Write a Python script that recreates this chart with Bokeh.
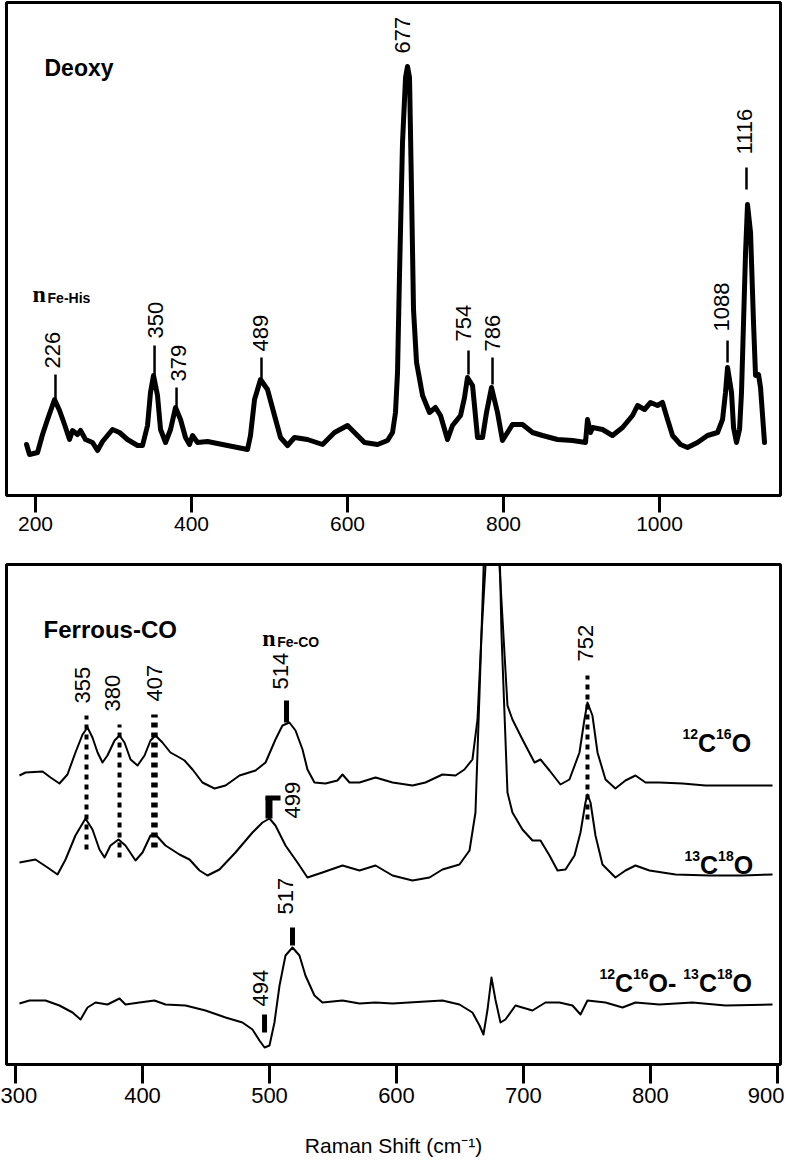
import numpy as np
from bokeh.plotting import figure
from bokeh.layouts import column
from bokeh.models import Range1d, FixedTicker
from bokeh.core.properties import value
from bokeh.embed import file_html
from bokeh.resources import INLINE

# ---------------- Deoxy spectrum (top panel) ----------------
deoxy_shift = [188.5, 192.3, 202.6, 209.0, 215.4, 224.4, 230.8, 237.2, 243.6, 247.4, 253.8, 257.7,
               264.1, 273.1, 279.5, 285.9, 292.3, 298.7, 307.7, 317.9, 330.8, 337.2, 343.6, 347.4,
               351.3, 356.4, 360.3, 366.7, 373.1, 379.5, 385.9, 392.3, 397.4, 401.3, 407.7, 420.5,
               439.7, 459.0, 471.8, 475.6, 480.8, 488.5, 497.4, 506.4, 514.1, 523.1, 532.0, 548.7,
               568.0, 583.3, 600.0, 612.8, 621.8, 638.5, 651.3,
               657.7, 661.5, 664.1, 666.7, 670.5, 674.4, 676.9, 679.5, 682.1, 684.6, 688.5, 696.2,
               705.1, 712.8, 719.2, 728.2, 734.6, 744.9, 750.0, 753.8, 760.3, 766.7, 773.1, 778.2,
               784.6, 792.3, 798.7, 805.1, 811.5, 824.4, 837.2, 850.0, 869.2, 888.5, 905.1, 907.7,
               911.5, 914.1, 926.9, 939.7, 952.6, 965.4, 971.8, 980.8, 988.5, 997.4, 1003.8, 1010.3,
               1016.7, 1026.9, 1035.9, 1048.7, 1061.5, 1074.4, 1080.8, 1084.6, 1087.2, 1092.3, 1094.9,
               1098.7, 1102.6, 1105.1, 1107.7, 1110.3, 1112.8, 1116.7, 1120.5, 1123.1, 1126.9, 1129.5,
               1134.6]
deoxy_int = [51, 41, 43, 61, 76, 96, 85, 71, 56, 65, 61, 65, 56, 53, 45, 54, 60, 66, 63, 56, 50, 50,
             70, 103, 120, 100, 66, 53, 66, 88, 76, 58, 51, 60, 53, 54, 51, 48, 46, 60, 96, 116, 106,
             80, 58, 50, 58, 56, 51, 63, 70, 60, 53, 51, 55,
             63, 83, 123, 223, 353, 418, 429, 418, 303, 186, 133, 100, 83, 88, 80, 56, 70, 80, 98,
             118, 110, 58, 58, 83, 108, 83, 55, 63, 71, 71, 63, 60, 56, 55, 53, 76, 63, 68, 66, 60,
             68, 80, 90, 86, 93, 90, 93, 76, 60, 51, 48, 53, 60, 63, 76, 103, 128, 103, 68, 53, 66,
             103, 173, 243, 291, 263, 173, 120, 121, 108, 53]

deoxy_ticks = [200, 400, 600, 800, 1000]
deoxy_labels = ["226", "350", "379", "489", "677", "754", "786", "1088", "1116"]
deoxy_label_x = [221.8, 353.8, 383.3, 488.5, 670.5, 748.7, 785.9, 1079.5, 1109.0]
deoxy_label_y = [127, 157, 114, 144, 442, 154, 144, 164, 341]
deoxy_line_x = [225.6, 352.6, 380.8, 489.7, 755.1, 785.9, 1087.2, 1111.5]
deoxy_line_top = [121, 150, 108, 138, 145, 138, 155, 328]
deoxy_line_bot = [96, 120, 88, 116, 121, 111, 133, 306]

# ---------------- Ferrous-CO spectra (bottom panel) ----------------
c12_shift = [303.1, 307.9, 321.3, 327.6, 334.6, 340.9, 347.2, 352.8, 356.7, 360.6, 364.6, 368.5,
             372.4, 378.0, 381.9, 385.8, 390.6, 396.1, 401.6, 406.3, 410.2, 415.7, 422.0, 429.1,
             433.1, 439.4, 447.2, 456.7, 465.4, 476.4, 489.0, 496.9, 504.7, 510.2, 515.7, 520.5,
             526.0, 529.9, 535.4, 544.1, 553.5, 557.5, 563.0, 570.9, 583.5, 596.9, 612.6, 622.8,
             636.2, 646.5, 653.5, 659.8, 663.8, 666.9, 670.1, 675.6, 681.1, 685.0, 687.4, 691.3,
             699.2, 708.7, 713.4, 720.5, 729.1, 736.2, 744.1, 748.0, 750.4, 754.3, 758.3, 764.6,
             772.4, 780.3, 788.2, 796.1, 807.1, 825.2, 843.3, 896.1]
c12_int = [289, 292, 293, 287, 281, 290, 312, 330, 337, 327, 312, 302, 309, 324, 329, 322, 305, 299,
           309, 324, 329, 322, 312, 307, 304, 295, 282, 276, 279, 289, 294, 302, 325, 339, 342, 334,
           315, 295, 282, 281, 284, 290, 282, 282, 287, 282, 279, 282, 290, 289, 295, 305, 345, 429,
           499, 640, 499, 412, 359, 345, 325, 302, 305, 294, 280, 285, 312, 345, 362, 349, 312, 285,
           276, 284, 289, 282, 282, 281, 279, 279]

c13_shift = [303.1, 315.7, 325.2, 333.1, 339.4, 347.2, 355.1, 360.6, 366.1, 370.1, 374.8, 381.1,
             386.6, 394.5, 400.0, 406.3, 410.2, 418.1, 429.1, 437.0, 444.9, 451.2, 460.6, 473.2,
             486.6, 494.5, 500.0, 504.7, 512.6, 522.0, 529.9, 541.7, 557.5, 570.9, 583.5, 596.9,
             612.6, 626.0, 636.2, 649.6, 657.5, 662.2, 665.4, 668.5, 673.2, 678.0, 682.7, 687.4,
             691.3, 699.2, 707.1, 713.4, 720.5, 726.8, 733.1, 740.2, 744.9, 748.8, 750.4, 752.8,
             756.7, 762.2, 772.4, 780.3, 788.2, 799.2, 819.7, 846.5, 872.4, 896.1]
c13_int = [202, 205, 197, 190, 205, 229, 246, 235, 215, 207, 219, 225, 219, 204, 212, 229, 230, 219,
           210, 205, 194, 189, 195, 212, 232, 242, 246, 239, 219, 202, 187, 192, 199, 194, 199, 189,
           184, 187, 195, 200, 214, 252, 372, 492, 700, 700, 430, 272, 252, 235, 224, 224, 209, 194,
           195, 209, 232, 262, 270, 262, 229, 200, 187, 194, 199, 194, 190, 189, 189, 190]

diff_shift = [303.1, 311.0, 323.6, 334.6, 344.9, 351.2, 356.7, 363.0, 372.4, 381.9, 386.6, 397.6,
              409.4, 418.1, 433.9, 449.6, 465.4, 478.7, 486.6, 492.1, 496.1, 500.0, 503.9, 507.9,
              512.6, 518.1, 523.6, 528.3, 535.4, 541.7, 557.5, 570.9, 583.5, 596.9, 622.8, 636.2,
              649.6, 659.8, 665.4, 668.5, 671.7, 674.8, 677.9, 681.9, 685.8, 693.7, 707.1, 717.3,
              728.3, 738.6, 744.9, 750.4, 764.6, 778.0, 788.2, 807.1, 833.1, 859.1, 896.1]
diff_int = [61, 64, 64, 59, 52, 45, 57, 62, 60, 66, 60, 62, 64, 60, 59, 54, 47, 42, 35, 24, 17, 19,
            42, 79, 109, 117, 109, 89, 69, 62, 64, 61, 62, 61, 63, 64, 60, 52, 39, 30, 55, 87, 65,
            42, 45, 59, 54, 62, 62, 59, 50, 64, 62, 57, 62, 60, 62, 59, 60]

co_ticks = [300, 400, 500, 600, 700, 800, 900]
co_labels = ["355", "380", "407", "514", "752", "499", "517", "494"]
co_label_x = [352.8, 376.4, 409.4, 508.7, 748.8, 518.1, 512.6, 492.9]
co_label_y = [361, 353, 363, 375, 403, 246, 150, 58]
dot_x = [355.9, 381.9, 409.4, 750.4]
dot_top = [349, 340, 350, 389]
dot_bot = [215, 207, 217, 245]
dot_w = [4, 4, 6.5, 4]
bar_x = [513.4, 518.1, 496.1]
bar_top = [364, 137, 50]
bar_bot = [342, 119, 32]

BOLD_W = {'0': .556, '1': .556, '2': .556, '3': .556, '4': .556, '5': .556, '6': .556,
          '7': .556, '8': .556, '9': .556, 'C': .722, 'O': .778, '-': .333, ' ': .278}
FONT = value("Liberation Sans")


def style_fig(p, ticks, tick_len, lab_size):
    p.outline_line_color = "black"
    p.outline_line_width = 3
    p.outline_line_alpha = 1
    p.xgrid.visible = False
    p.ygrid.visible = False
    p.yaxis.visible = False
    ax = p.xaxis[0]
    ax.ticker = FixedTicker(ticks=ticks)
    ax.axis_line_color = None
    ax.major_tick_line_width = 3
    ax.major_tick_line_color = "black"
    ax.major_tick_out = tick_len
    ax.major_tick_in = 0
    ax.minor_tick_out = 0
    ax.minor_tick_in = 0
    ax.major_label_text_font = "Liberation Sans"
    ax.major_label_text_font_size = lab_size
    ax.major_label_text_color = "black"
    ax.major_label_standoff = 4
    p.background_fill_color = "white"
    p.border_fill_color = "white"


def add_iso(p, x, y, parts, big=25, small=14):
    off = 0.0
    for t, sup in parts:
        size = small if sup else big
        p.text(x=[x], y=[y], text=[t], x_offset=off, y_offset=(-9 if sup else 0),
               text_font=FONT, text_font_style="bold", text_font_size=f"{size}px",
               text_align="left", text_baseline="alphabetic", text_color="black")
        off += sum(BOLD_W[c] for c in t) * size


def add_nu(p, x, y, sub):
    p.text(x=[x], y=[y], text=["n"], text_font=value("Liberation Serif"), text_font_style="bold",
           text_font_size="24px", text_align="left", text_baseline="alphabetic", text_color="black")
    p.text(x=[x], y=[y], text=[sub], x_offset=15, y_offset=4, text_font=FONT,
           text_font_style="bold", text_font_size="14px", text_align="left",
           text_baseline="alphabetic", text_color="black")


# ---------------- top figure ----------------
p1 = figure(frame_width=774, frame_height=493, x_range=Range1d(162.8, 1155.1),
            y_range=Range1d(0, 493), output_backend="svg", toolbar_location=None,
            min_border_left=6, min_border_right=4, min_border_top=2, min_border_bottom=57)
style_fig(p1, deoxy_ticks, 17, "21px")
p1.line(deoxy_shift, deoxy_int, line_color="black", line_width=5, line_join="round", line_cap="round")
p1.segment(x0=deoxy_line_x, y0=deoxy_line_bot, x1=deoxy_line_x, y1=deoxy_line_top,
           line_color="black", line_width=2.5)
p1.text(x=deoxy_label_x, y=deoxy_label_y, text=deoxy_labels, angle=np.pi / 2,
        text_font=FONT, text_font_size="22px", text_align="left", text_baseline="middle",
        text_color="black")
p1.text(x=[211.5], y=[428], text=["Deoxy"], text_font=FONT, text_font_style="bold",
        text_font_size="23px", text_align="left", text_baseline="alphabetic", text_color="black")
add_nu(p1, 196.2, 202, "Fe-His")

# ---------------- bottom figure ----------------
p2 = figure(frame_width=774, frame_height=500, x_range=Range1d(292.9, 902.4),
            y_range=Range1d(0, 500), output_backend="svg", toolbar_location=None,
            min_border_left=6, min_border_right=4, min_border_top=12, min_border_bottom=98)
style_fig(p2, co_ticks, 19, "22px")
ax2 = p2.xaxis[0]
ax2.axis_label = "Raman Shift (cm\u207b\u00b9)"
ax2.axis_label_text_font = "Liberation Sans"
ax2.axis_label_text_font_style = "normal"
ax2.axis_label_text_font_size = "21px"
ax2.axis_label_text_color = "black"
ax2.axis_label_standoff = 28

for xs, ys in ((c12_shift, c12_int), (c13_shift, c13_int), (diff_shift, diff_int)):
    p2.line(xs, ys, line_color="black", line_width=2, line_join="round")

for xv, t, b, w in zip(dot_x, dot_top, dot_bot, dot_w):
    p2.segment(x0=[xv], y0=[b], x1=[xv], y1=[t], line_color="black", line_width=w,
               line_dash="5 5")
p2.segment(x0=bar_x, y0=bar_bot, x1=bar_x, y1=bar_top, line_color="black", line_width=5)
# bracket marker for 499
p2.segment(x0=[499.6], y0=[246], x1=[499.6], y1=[268], line_color="black", line_width=7)
p2.segment(x0=[496.9], y0=[266.5], x1=[508.7], y1=[266.5], line_color="black", line_width=5)

p2.text(x=co_label_x, y=co_label_y, text=co_labels, angle=np.pi / 2,
        text_font=FONT, text_font_size="22px", text_align="left", text_baseline="middle",
        text_color="black")
p2.text(x=[322.1], y=[435], text=["Ferrous-CO"], text_font=FONT, text_font_style="bold",
        text_font_size="24px", text_align="left", text_baseline="alphabetic", text_color="black")
add_nu(p2, 494.2, 427, "Fe-CO")

add_iso(p2, 825.2, 322, [("12", 1), ("C", 0), ("16", 1), ("O", 0)])
add_iso(p2, 826.8, 200, [("13", 1), ("C", 0), ("18", 1), ("O", 0)])
add_iso(p2, 759.8, 82, [("12", 1), ("C", 0), ("16", 1), ("O- ", 0), ("13", 1), ("C", 0),
                        ("18", 1), ("O", 0)])

layout = column(p1, p2)
open("out.html", "w").write(file_html(layout, INLINE))
